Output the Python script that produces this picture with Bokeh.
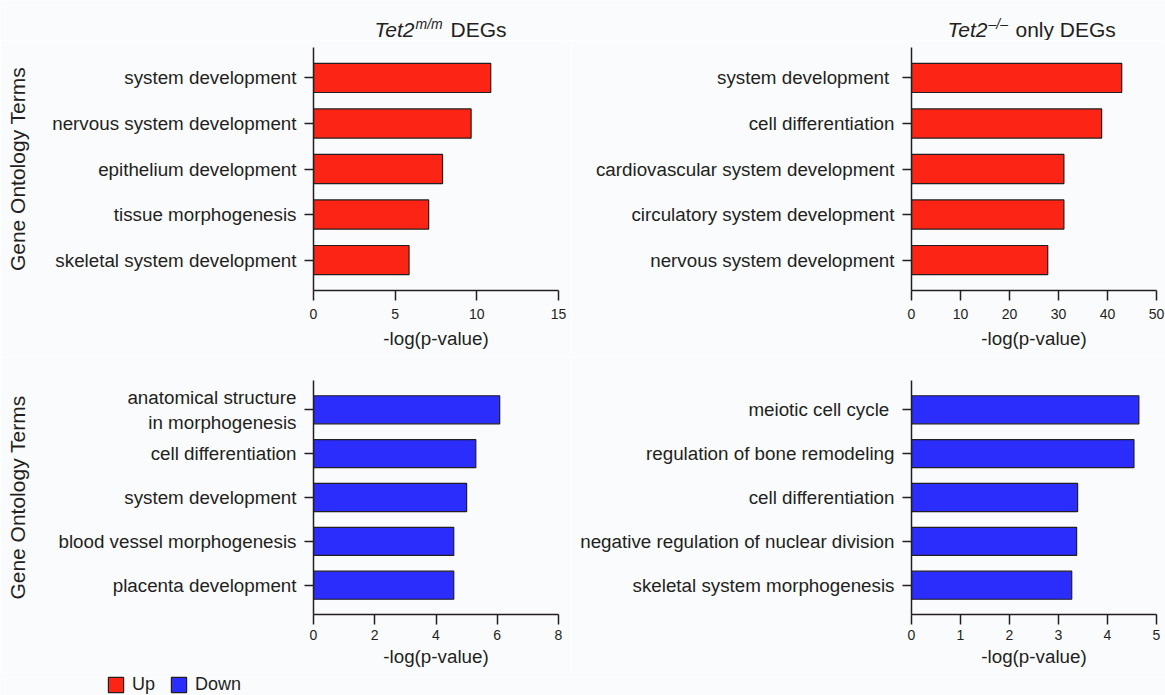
import numpy as np
from bokeh.plotting import figure
from bokeh.layouts import column, row
from bokeh.models import (FactorRange, Range1d, FixedTicker, Legend,
                          LegendItem, ColumnDataSource)
from bokeh.core.properties import value
from bokeh.embed import file_html
from bokeh.resources import INLINE

# ---------------- data ----------------
tl_terms = ["system development", "nervous system development",
            "epithelium development", "tissue morphogenesis",
            "skeletal system development"]
tl_values = [10.85, 9.65, 7.9, 7.05, 5.85]
tl_ticks = [0, 5, 10, 15]

tr_terms = ["system development\u00a0", "cell differentiation",
            "cardiovascular system development",
            "circulatory system development", "nervous system development"]
tr_values = [42.9, 38.8, 31.1, 31.1, 27.8]
tr_ticks = [0, 10, 20, 30, 40, 50]

bl_terms = ["anatomical structure\nin morphogenesis", "cell differentiation",
            "system development", "blood vessel morphogenesis",
            "placenta development"]
bl_values = [6.08, 5.3, 5.0, 4.58, 4.58]
bl_ticks = [0, 2, 4, 6, 8]

br_terms = ["meiotic cell cycle\u00a0", "regulation of bone remodeling",
            "cell differentiation", "negative regulation of nuclear division",
            "skeletal system morphogenesis"]
br_values = [4.64, 4.54, 3.39, 3.37, 3.27]
br_ticks = [0, 1, 2, 3, 4, 5]

gene_names = ["Tet2", "Tet2"]
genotypes = ["m/m", "\u2013/\u2013"]
title_rest = ["DEGs", "only DEGs"]
legend_labels = ["Up", "Down"]
y_title = "Gene Ontology Terms"
x_title = "-log(p-value)"

# ---------------- style ----------------
FONT = "Liberation Sans"
INK = "#231f20"
BG = "#fafbfd"
RED = "#fc2414"
BLUE = "#2b2dfd"
LBL = "18.8px"
W_LEFT, W_RIGHT = 570, 595
W = W_LEFT + W_RIGHT
H_TITLE, H_TOP, H_BOT, H_LEG = 40, 316, 316, 23


def style_blank(p):
    p.axis.visible = False
    p.grid.visible = False
    p.outline_line_color = None
    p.background_fill_color = BG
    p.border_fill_color = BG


def make_panel(terms, values, color, ticks, width, height,
               mb_left, mb_right, mb_top, mb_bottom, tick_standoff,
               label_standoff, ylabel_standoff=None):
    p = figure(width=width, height=height, output_backend="svg",
               toolbar_location=None,
               y_range=FactorRange(factors=list(reversed(terms)),
                                   range_padding=0.067),
               x_range=Range1d(ticks[0], ticks[-1]),
               min_border_left=mb_left, min_border_right=mb_right,
               min_border_top=mb_top, min_border_bottom=mb_bottom)
    src = ColumnDataSource(dict(term=terms, value=values))
    r = p.hbar(y="term", left=0, right="value", height=0.64, source=src,
               fill_color=color, line_color=INK, line_width=1.2)
    p.background_fill_color = BG
    p.border_fill_color = BG
    p.outline_line_color = None
    p.xgrid.visible = False
    p.ygrid.visible = False

    xa = p.xaxis[0]
    xa.ticker = FixedTicker(ticks=ticks)
    xa.axis_label = x_title
    xa.axis_label_text_font = FONT
    xa.axis_label_text_font_style = "normal"
    xa.axis_label_text_font_size = LBL
    xa.axis_label_text_color = INK
    xa.axis_label_standoff = label_standoff
    xa.major_label_text_font = FONT
    xa.major_label_text_font_size = "14px"
    xa.major_label_text_color = INK
    xa.major_label_standoff = tick_standoff
    xa.major_tick_in = 0
    xa.major_tick_out = 10
    xa.minor_tick_line_color = None

    ya = p.yaxis[0]
    ya.major_label_text_font = FONT
    ya.major_label_text_font_size = LBL
    ya.major_label_text_color = INK
    ya.major_label_standoff = 8
    ya.major_tick_in = 0
    ya.major_tick_out = 9
    if ylabel_standoff is not None:
        ya.axis_label = y_title
        ya.axis_label_text_font = FONT
        ya.axis_label_text_font_style = "normal"
        ya.axis_label_text_font_size = "21px"
        ya.axis_label_text_color = INK
        ya.axis_label_standoff = ylabel_standoff

    for ax in (xa, ya):
        ax.axis_line_color = INK
        ax.axis_line_width = 1.5
        ax.major_tick_line_color = INK
        ax.major_tick_line_width = 1.5
    return p, r


p1, r1 = make_panel(tl_terms, tl_values, RED, tl_ticks, W_LEFT, H_TOP,
                    313, 12, 7, 66, 8, 6, ylabel_standoff=20)
p2, r2 = make_panel(tr_terms, tr_values, RED, tr_ticks, W_RIGHT, H_TOP,
                    341, 9, 7, 66, 8, 6)
p3, r3 = make_panel(bl_terms, bl_values, BLUE, bl_ticks, W_LEFT, H_BOT,
                    313, 12, 24, 58, 5, 3, ylabel_standoff=26)
p4, r4 = make_panel(br_terms, br_values, BLUE, br_ticks, W_RIGHT, H_BOT,
                    341, 9, 24, 58, 5, 3)

# ---------------- column titles (strip with text glyphs) ----------------
ts = figure(width=W, height=H_TITLE, output_backend="svg", title=None,
            toolbar_location=None, x_range=Range1d(0, W),
            y_range=Range1d(H_TITLE, 0), min_border_left=0,
            min_border_right=0, min_border_top=0, min_border_bottom=0)
style_blank(ts)

gx = [414, 987]   # right edge of the italic gene name
sx = [415, 988]   # start of the superscript genotype
rx = [450, 1015]  # start of the remaining title text
ts.text(x=gx, y=[29, 29], text=gene_names, text_font=value(FONT),
        text_font_size="21px", text_font_style="italic", text_align="right",
        text_baseline="alphabetic", text_color=INK)
ts.text(x=sx, y=[23, 23], text=genotypes, text_font=value(FONT),
        text_font_size="14px", text_font_style="italic", text_align="left",
        text_baseline="alphabetic", text_color=INK)
ts.text(x=rx, y=[29, 29], text=title_rest, text_font=value(FONT),
        text_font_size="21px", text_font_style="normal", text_align="left",
        text_baseline="alphabetic", text_color=INK)

# ---------------- legend strip (Up / Down) ----------------
lg = figure(width=W, height=H_LEG, output_backend="svg", title=None,
            toolbar_location=None, x_range=Range1d(0, W),
            y_range=Range1d(0, H_LEG), min_border_left=0,
            min_border_right=0, min_border_top=0, min_border_bottom=0)
style_blank(lg)
# key-only renderers (no visible bars: their values are missing)
key = dict(y=np.array([np.nan]), right=np.array([np.nan]))
up_r = lg.hbar(y="y", left=0, right="right", height=1,
               source=ColumnDataSource(dict(key)), fill_color=RED,
               line_color=INK, line_width=1.2)
down_r = lg.hbar(y="y", left=0, right="right", height=1,
                 source=ColumnDataSource(dict(key)), fill_color=BLUE,
                 line_color=INK, line_width=1.2)
legend = Legend(items=[LegendItem(label=legend_labels[0], renderers=[up_r]),
                       LegendItem(label=legend_labels[1], renderers=[down_r])],
                location=(106, 0), orientation="horizontal",
                glyph_width=19, glyph_height=19, label_standoff=7,
                spacing=14, padding=0, margin=0, border_line_color=None,
                background_fill_alpha=0, label_text_font=FONT,
                label_text_font_size="18px", label_text_color=INK,
                label_height=21)
lg.add_layout(legend)

layout = column(ts, row(p1, p2), row(p3, p4), lg)

open("out.html", "w").write(file_html(layout, INLINE))
